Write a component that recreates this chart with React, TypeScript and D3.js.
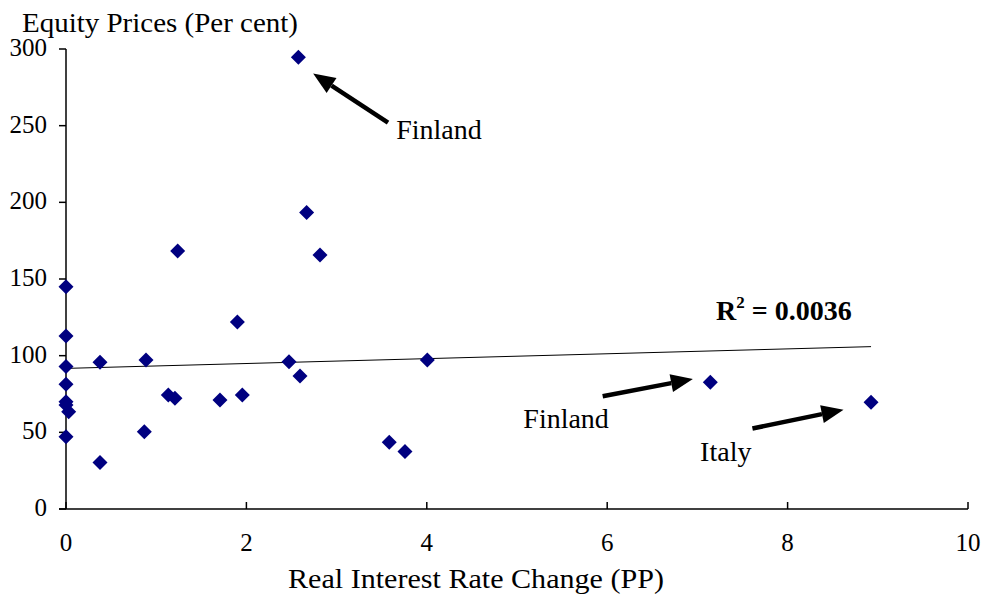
import React from "react";
import * as d3 from "d3";

const rateChange = [0, 0, 0, 0, 0, 0, 0, 0.03, 0.377, 0.377, 0.887, 0.868, 1.134, 1.208, 1.238, 1.707, 1.9, 1.955, 2.472, 2.576, 2.594, 2.668, 2.816, 3.584, 3.758, 4.006, 7.143, 8.925];
const equityPrices = [145, 112.8, 93, 81.3, 70, 67.8, 47.2, 63.5, 95.7, 30.4, 97.2, 50.4, 74.3, 72.2, 168.3, 71.1, 122, 74.3, 96.1, 294.6, 86.7, 193.3, 165.7, 43.5, 37.5, 97.2, 82.6, 69.6];

const xTicks = [0, 2, 4, 6, 8, 10];
const yTicks = [0, 50, 100, 150, 200, 250, 300];

const trendIntercept = 91.7;
const trendSlope = 1.59;
const trendRange = [0, 8.925];
const r2Label = "0.0036";

// annotations: label, text anchor point (data units), arrow tail, arrow tip (data units)
const annLabels = ["Finland", "Finland", "Italy"];
const annTextPos = [[3.66, 241], [5.07, 53], [7.03, 31.5]];
const annTail = [[3.57, 252], [5.95, 73.5], [7.61, 52.5]];
const annTip = [[2.74, 284], [6.95, 84.8], [8.62, 64.8]];

const margin = { left: 66, right: 16, top: 49, bottom: 87 };
const W = 984;
const H = 596;
const FONT = "'Liberation Serif', 'Times New Roman', serif";

export default function App() {
  const x = d3.scaleLinear().domain([0, 10]).range([margin.left, W - margin.right]);
  const y = d3.scaleLinear().domain([0, 300]).range([H - margin.bottom, margin.top]);
  const r = 7.5;
  const line = d3.line<number>().x((d) => x(d)).y((d) => y(trendIntercept + trendSlope * d));

  const arrow = (t: number[], h: number[]) => {
    const x1 = x(t[0]), y1 = y(t[1]), x2 = x(h[0]), y2 = y(h[1]);
    const ang = Math.atan2(y2 - y1, x2 - x1);
    const L = 22, Wd = 9;
    const bx = x2 - L * Math.cos(ang), by = y2 - L * Math.sin(ang);
    const px = -Math.sin(ang) * Wd, py = Math.cos(ang) * Wd;
    return { x1, y1, bx, by, tri: `M${x2},${y2}L${bx + px},${by + py}L${bx - px},${by - py}Z` };
  };

  return (
    <svg width={W} height={H} style={{ position: "absolute", left: 0, top: 0, background: "#fff" }} fontFamily={FONT}>
      <text x={22} y={32} fontSize={28} textLength={276} lengthAdjust="spacingAndGlyphs">Equity Prices (Per cent)</text>
      {/* y axis */}
      <line x1={x(0)} x2={x(0)} y1={y(0)} y2={y(300)} stroke="#000" strokeWidth={1.5} />
      {yTicks.map((t) => (
        <g key={t}>
          <line x1={x(0) - 7} x2={x(0)} y1={y(t)} y2={y(t)} stroke="#000" strokeWidth={1.5} />
          <text x={47} y={y(t) + 7} fontSize={25} textAnchor="end">{t}</text>
        </g>
      ))}
      {/* x axis */}
      <line x1={x(0) - 7} x2={x(10)} y1={y(0)} y2={y(0)} stroke="#000" strokeWidth={1.5} />
      {xTicks.map((t) => (
        <g key={t}>
          <line x1={x(t)} x2={x(t)} y1={y(0)} y2={y(0) - 7} stroke="#000" strokeWidth={1.5} />
          <text x={x(t)} y={551} fontSize={25} textAnchor="middle">{t}</text>
        </g>
      ))}
      <text x={476} y={588} fontSize={27} textAnchor="middle" textLength={376} lengthAdjust="spacingAndGlyphs">Real Interest Rate Change (PP)</text>
      {/* trend */}
      <path d={line(trendRange) || ""} fill="none" stroke="#000" strokeWidth={1} />
      {/* points */}
      {rateChange.map((v, i) => {
        const cx = x(v), cy = y(equityPrices[i]);
        return <path key={i} d={`M${cx},${cy - r}L${cx + r},${cy}L${cx},${cy + r}L${cx - r},${cy}Z`} fill="#000080" />;
      })}
      {/* R2 */}
      <text x={716} y={320} fontSize={28} fontWeight="bold">
        R<tspan dy={-12} fontSize={17}>2</tspan><tspan dy={12}> = {r2Label}</tspan>
      </text>
      {/* annotations */}
      {annLabels.map((lab, i) => {
        const a = arrow(annTail[i], annTip[i]);
        return (
          <g key={i}>
            <line x1={a.x1} y1={a.y1} x2={a.bx} y2={a.by} stroke="#000" strokeWidth={4.5} />
            <path d={a.tri} fill="#000" />
            <text x={x(annTextPos[i][0])} y={y(annTextPos[i][1])} fontSize={28}>{lab}</text>
          </g>
        );
      })}
    </svg>
  );
}
